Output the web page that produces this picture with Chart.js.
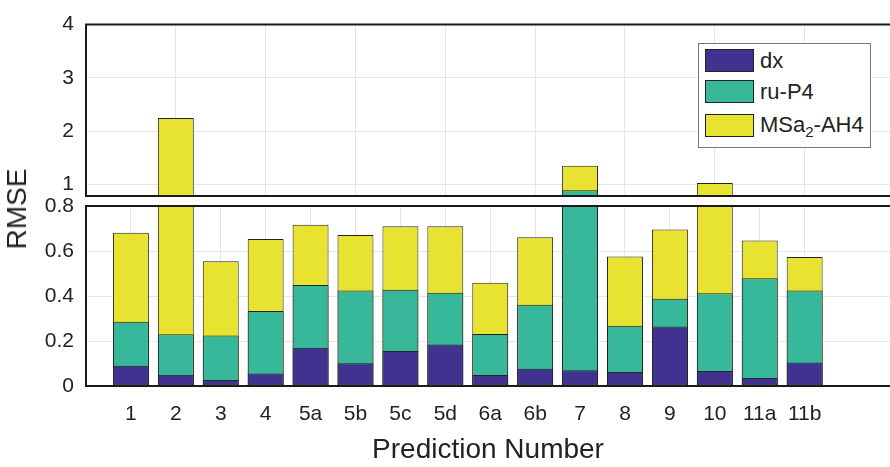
<!DOCTYPE html>
<html>
<head>
<meta charset="utf-8">
<script src="https://cdn.jsdelivr.net/npm/chart.js@4.4.1/dist/chart.umd.min.js"></script>
<style>
  body { margin: 0; background: #fff; font-family: 'Liberation Sans', Arial, sans-serif; }
  #wrap { position: relative; width: 890px; height: 467px; overflow: hidden; }
  #wrap canvas { position: absolute; left: 0; top: 0; }
  #ylabel { position: absolute; left: 17px; top: 209px; font-size: 28px; color: #222;
            transform: translate(-50%, -50%) rotate(-90deg); white-space: nowrap; }
  #legend { position: absolute; left: 698px; top: 43px; width: 171px; height: 103px;
            border: 1.5px solid #777; background: #fff; }
  .row { position: absolute; left: 6px; height: 23px; display: flex; align-items: center; }
  .sw { width: 47px; height: 21px; border: 1px solid #222; margin-right: 6px; }
  .row span { font-size: 22px; color: #222; }
  .row sub { font-size: 15px; vertical-align: -5px; }
</style>
</head>
<body>
<div id="wrap">
  <canvas id="topChart" width="890" height="467"></canvas>
  <canvas id="bottomChart" width="890" height="467"></canvas>
  <div id="ylabel">RMSE</div>
  <div id="legend">
    <div class="row" style="top:5px"><div class="sw" style="background:#413290"></div><span>dx</span></div>
    <div class="row" style="top:36px"><div class="sw" style="background:#38b89a"></div><span>ru-P4</span></div>
    <div class="row" style="top:70px"><div class="sw" style="background:#e8e230"></div><span>MSa<sub>2</sub>-AH4</span></div>
  </div>
</div>
<script>
// Data (top of each bar, bars overlap)
const categories = ['1', '2', '3', '4', '5a', '5b', '5c', '5d', '6a', '6b', '7', '8', '9', '10', '11a', '11b'];
const dx = [0.090, 0.050, 0.027, 0.056, 0.170, 0.101, 0.156, 0.184, 0.049, 0.077, 0.070, 0.062, 0.264, 0.067, 0.036, 0.104];
const ruP4 = [0.286, 0.230, 0.224, 0.333, 0.449, 0.424, 0.428, 0.415, 0.231, 0.361, 0.893, 0.268, 0.388, 0.412, 0.479, 0.424];
const msa2 = [0.681, 2.25, 0.554, 0.653, 0.717, 0.671, 0.710, 0.710, 0.459, 0.661, 1.352, 0.576, 0.696, 1.03, 0.647, 0.573];
const topTicks = [1, 2, 3, 4];
const bottomTicks = [0, 0.2, 0.4, 0.6, 0.8];

const FONT = "'Liberation Sans', Arial, sans-serif";
const GRID = '#e6e6e6';

function makeDatasets() {
    const series = [
        { label: 'dx', values: dx, color: '#413290' },
        { label: 'ru-P4', values: ruP4, color: '#38b89a' },
        { label: 'MSa2-AH4', values: msa2, color: '#e8e230' }
    ];
    return series.map(s => ({
        label: s.label,
        data: s.values.map((v, i) => ({ x: i + 1, y: v })),
        backgroundColor: s.color,
        borderColor: '#222',
        borderWidth: 1,
        borderSkipped: false,
        grouped: false,
        categoryPercentage: 1,
        barPercentage: 0.8,
        clip: 0
    }));
}

// frame lines drawn over the bars (no right edge, like the figure)
const framePlugin = {
    id: 'frame',
    afterDraw(chart) {
        const { ctx, chartArea: a } = chart;
        ctx.save();
        ctx.strokeStyle = '#1a1a1a';
        ctx.lineWidth = 2;
        ctx.beginPath();
        ctx.moveTo(a.right + 5, a.top);
        ctx.lineTo(a.left, a.top);
        ctx.lineTo(a.left, a.bottom);
        ctx.lineTo(a.right + 5, a.bottom);
        ctx.stroke();
        ctx.restore();
    }
};

function xScale(showLabels, tickValues) {
    return {
        type: 'linear',
        min: 0,
        max: 17.9,
        offset: false,
        afterBuildTicks: s => { s.ticks = tickValues.map(v => ({ value: v })); },
        afterFit: s => { s.height = showLabels ? 81 : 0; },
        border: { display: false },
        grid: { color: GRID, drawTicks: false, offset: false },
        ticks: {
            display: showLabels,
            padding: 16,
            maxRotation: 0,
            autoSkip: false,
            font: { family: FONT, size: 21 },
            color: '#222',
            callback: v => categories[v - 1] || ''
        },
        title: {
            display: showLabels,
            text: 'Prediction Number',
            font: { family: FONT, size: 28 },
            color: '#222',
            padding: { top: 0, bottom: 0 }
        }
    };
}

function yScale(min, max, tickValues) {
    return {
        min: min,
        max: max,
        afterBuildTicks: s => { s.ticks = tickValues.map(v => ({ value: v })); },
        afterFit: s => { s.width = 86; },
        border: { display: false },
        grid: { color: GRID, drawTicks: false },
        ticks: {
            padding: 12,
            font: { family: FONT, size: 21 },
            color: '#222',
            callback: v => String(v)
        }
    };
}

function buildChart(id, padding, xs, ys) {
    const ctx = document.getElementById(id).getContext('2d');
    return new Chart(ctx, {
        type: 'bar',
        data: { datasets: makeDatasets() },
        options: {
            responsive: false,
            animation: false,
            layout: { padding: padding },
            scales: { x: xs, y: ys },
            plugins: { legend: { display: false }, tooltip: { enabled: false } }
        },
        plugins: [framePlugin]
    });
}

// upper panel of the broken axis
window.topChart = buildChart('topChart',
    { top: 16, bottom: 271, left: 0, right: 0 },
    xScale(false, [2, 4, 6, 8, 10, 12, 14, 16]),
    yScale(0.786, 4, topTicks));

// lower panel
window.bottomChart = buildChart('bottomChart',
    { top: 206, bottom: 0, left: 0, right: 0 },
    xScale(true, categories.map((c, i) => i + 1)),
    yScale(0, 0.8, bottomTicks));
</script>
</body>
</html>
